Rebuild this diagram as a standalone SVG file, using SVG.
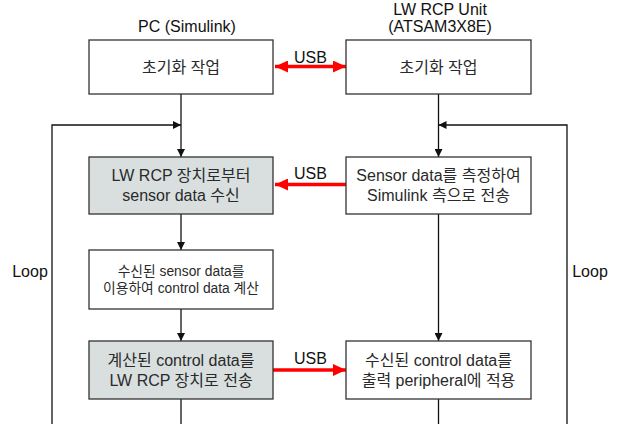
<svg xmlns="http://www.w3.org/2000/svg" width="618" height="424" viewBox="0 0 618 424">
<defs>
<style>
text{font-family:"Liberation Sans","Noto Sans CJK KR",sans-serif;fill:#111;text-anchor:middle}
.hd{font-size:16px}
.bx{font-size:16px;fill:#2a2a2a}
.sm{font-size:13.8px;fill:#2a2a2a}
.lb{font-size:16px}
.box{fill:#fff;stroke:#333;stroke-width:1.3}
.gray{fill:#d9dfdf}
.ln{stroke:#111;stroke-width:1.3;fill:none}
.usb{stroke:#f00;stroke-width:3.5;fill:none}
</style>
<marker id="ah" viewBox="0 0 10 10" refX="10" refY="5" markerWidth="8" markerHeight="8" markerUnits="userSpaceOnUse" orient="auto-start-reverse">
<path d="M0,0L10,5L0,10z" fill="#111"/>
</marker>
<marker id="rh" viewBox="0 0 10 10" refX="10" refY="5" markerWidth="13" markerHeight="12" markerUnits="userSpaceOnUse" orient="auto-start-reverse" preserveAspectRatio="none">
<path d="M0,0L10,5L0,10z" fill="#f00"/>
</marker>
</defs>
<rect width="618" height="424" fill="#fff"/>
<text class="hd" x="187" y="32">PC (Simulink)</text>
<text class="hd" x="440" y="15">LW RCP Unit</text>
<text class="hd" x="440" y="32">(ATSAM3X8E)</text>
<g id="connectors">
<line class="ln" x1="181" y1="94" x2="181" y2="157" marker-end="url(#ah)"/>
<polyline class="ln" points="52,424 52,125 181,125" marker-end="url(#ah)"/>
<line class="ln" x1="181" y1="214" x2="181" y2="250" marker-end="url(#ah)"/>
<line class="ln" x1="181" y1="309" x2="181" y2="341" marker-end="url(#ah)"/>
<line class="ln" x1="181" y1="399" x2="181" y2="424"/>
<line class="ln" x1="438.5" y1="94" x2="438.5" y2="157" marker-end="url(#ah)"/>
<polyline class="ln" points="567,424 567,125 438.5,125" marker-end="url(#ah)"/>
<line class="ln" x1="438.5" y1="214" x2="438.5" y2="341" marker-end="url(#ah)"/>
<line class="ln" x1="438.5" y1="399" x2="438.5" y2="424"/>
<line class="usb" x1="275" y1="66.5" x2="346" y2="66.5" marker-start="url(#rh)" marker-end="url(#rh)"/>
<line class="usb" x1="346" y1="184.5" x2="275" y2="184.5" marker-end="url(#rh)"/>
<line class="usb" x1="273" y1="370" x2="346" y2="370" marker-end="url(#rh)"/>
<text class="lb" x="310.5" y="63">USB</text>
<text class="lb" x="310.5" y="179">USB</text>
<text class="lb" x="310.5" y="364">USB</text>
<text class="lb" x="30" y="277">Loop</text>
<text class="lb" x="590" y="277">Loop</text>
</g>
<g id="pc-init">
<rect class="box" x="89" y="40" width="184" height="54"/>
<text class="bx" x="181" y="72.5">초기화 작업</text>
</g>
<g id="pc-receive">
<rect class="box gray" x="89" y="157" width="184" height="57"/>
<text class="bx" x="181" y="181">LW RCP 장치로부터</text>
<text class="bx" x="181" y="201">sensor data 수신</text>
</g>
<g id="pc-compute">
<rect class="box" x="89" y="250" width="184" height="59"/>
<text class="sm" x="181" y="276">수신된 sensor data를</text>
<text class="sm" x="181" y="293">이용하여 control data 계산</text>
</g>
<g id="pc-send">
<rect class="box gray" x="89" y="341" width="184" height="58"/>
<text class="bx" x="181" y="366">계산된 control data를</text>
<text class="bx" x="181" y="386">LW RCP 장치로 전송</text>
</g>
<g id="unit-init">
<rect class="box" x="346" y="40" width="185" height="54"/>
<text class="bx" x="438.5" y="72.5">초기화 작업</text>
</g>
<g id="unit-measure">
<rect class="box" x="346" y="157" width="185" height="57"/>
<text class="bx" x="438.5" y="181">Sensor data를 측정하여</text>
<text class="bx" x="438.5" y="201">Simulink 측으로 전송</text>
</g>
<g id="unit-apply">
<rect class="box" x="346" y="341" width="185" height="58"/>
<text class="bx" x="438.5" y="366">수신된 control data를</text>
<text class="bx" x="438.5" y="386">출력 peripheral에 적용</text>
</g>
</svg>
